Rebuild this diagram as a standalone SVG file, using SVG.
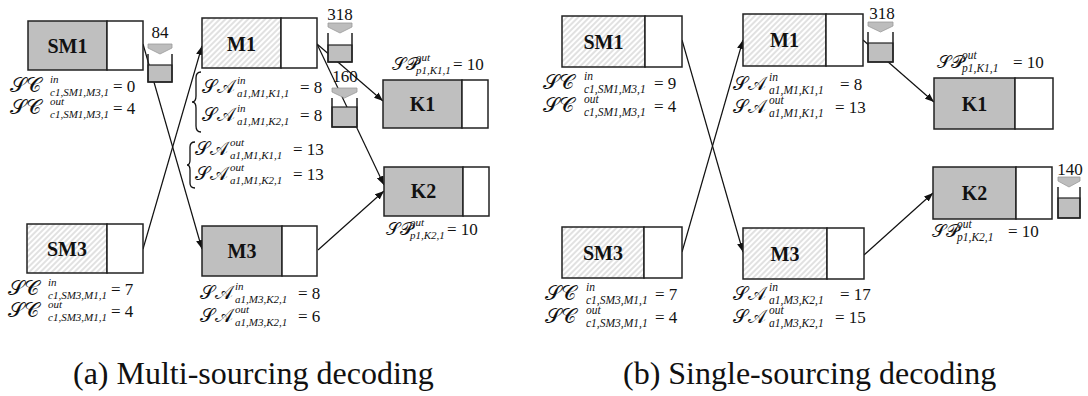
<svg xmlns="http://www.w3.org/2000/svg" width="1088" height="396" viewBox="0 0 1088 396">
  <defs>
    <pattern id="hatch" width="4" height="4" patternUnits="userSpaceOnUse" patternTransform="rotate(45)">
      <rect width="4" height="4" fill="#ffffff"/>
      <line x1="1" y1="0" x2="1" y2="4" stroke="#c4c4c4" stroke-width="1"/>
    </pattern>
    <marker id="arr" markerWidth="9" markerHeight="7" refX="9" refY="3.5" orient="auto" markerUnits="userSpaceOnUse">
      <path d="M0,0 L9,3.5 L0,7 z" fill="#111"/>
    </marker>
    <style>
      .box { stroke: #222; stroke-width: 1.5; }
      .solid { fill: #bfbfbf; }
      .hatched { fill: url(#hatch); }
      .cell { fill: #ffffff; }
      .name { font-family: "Liberation Serif", "Times New Roman", serif; font-weight: bold; font-size: 20px; text-anchor: middle; fill: #111; }
      .fm { font-family: "Liberation Serif", "Times New Roman", serif; font-size: 17px; fill: #111; }
      .cal { font-family: "DejaVu Serif", "DejaVu Sans", serif; font-size: 18.5px; }
      .cal.c { font-size: 21px; }
      .cal.p { font-size: 18px; }
      .sp, .sb { font-family: "Liberation Serif", "Times New Roman", serif; font-style: italic; font-size: 11px; }
      .wide .sp, .wide .sb { font-size: 11.5px; }
      .qty { font-family: "Liberation Serif", "Times New Roman", serif; font-size: 17px; text-anchor: middle; fill: #111; }
      .cap { font-family: "Liberation Serif", "Times New Roman", serif; font-size: 32px; fill: #111; }
      .wire { stroke: #111; stroke-width: 1.2; fill: none; marker-end: url(#arr); }
      .brace { stroke: #111; stroke-width: 1.3; fill: none; }
      .tip { fill: #bdbdbd; stroke: #9a9a9a; stroke-width: 0.8; }
      .wall { fill: none; stroke: #222; stroke-width: 1.5; }
      .level { fill: #bfbfbf; stroke: #222; stroke-width: 1.2; }
    </style>
  </defs>

  <!-- connectors -->
  <g id="connectors">
    <line class="wire" x1="143" y1="44" x2="202" y2="249"/>
    <line class="wire" x1="143" y1="249" x2="202" y2="46"/>
    <line class="wire" x1="317" y1="44" x2="383" y2="101"/>
    <line class="wire" x1="317" y1="44" x2="384" y2="185"/>
    <line class="wire" x1="318" y1="250" x2="384" y2="191"/>
    <line class="wire" x1="682" y1="40" x2="743" y2="252"/>
    <line class="wire" x1="682" y1="252" x2="743" y2="40"/>
    <line class="wire" x1="863" y1="40" x2="934" y2="102"/>
    <line class="wire" x1="864" y1="255" x2="933" y2="193"/>
  </g>

  <!-- (a) multi-sourcing -->
  <g id="a-SM1">
    <rect class="box solid" x="28" y="21" width="79" height="49"/>
    <rect class="box cell" x="107" y="21" width="36" height="49"/>
    <text class="name" x="67.5" y="53">SM1</text>
    <text class="fm" y="92"><tspan class="cal c" x="10">𝒮𝒞</tspan><tspan class="sp" x="50" y="83">in</tspan><tspan class="sb" x="50" y="96">c1,SM1,M3,1</tspan><tspan x="113" y="92">= 0</tspan></text>
    <text class="fm" y="114"><tspan class="cal c" x="10">𝒮𝒞</tspan><tspan class="sp" x="50" y="105">out</tspan><tspan class="sb" x="50" y="118">c1,SM1,M3,1</tspan><tspan x="113" y="114">= 4</tspan></text>
  </g>
  <g id="a-SM1-stock">
    <polygon class="tip" points="148,44 172,44 172,48 160,54 148,48"/>
    <rect class="level" x="148" y="65" width="24" height="17"/>
    <path class="wall" d="M148,54 V82 H172 V54"/>
    <text class="qty" x="160" y="38">84</text>
  </g>
  <g id="a-SM3">
    <rect class="box hatched" x="27" y="224" width="80" height="49"/>
    <rect class="box cell" x="107" y="224" width="36" height="49"/>
    <text class="name" x="67" y="256">SM3</text>
    <text class="fm" y="295"><tspan class="cal c" x="8">𝒮𝒞</tspan><tspan class="sp" x="48" y="286">in</tspan><tspan class="sb" x="48" y="299">c1,SM3,M1,1</tspan><tspan x="111" y="295">= 7</tspan></text>
    <text class="fm" y="317"><tspan class="cal c" x="8">𝒮𝒞</tspan><tspan class="sp" x="48" y="308">out</tspan><tspan class="sb" x="48" y="321">c1,SM3,M1,1</tspan><tspan x="111" y="317">= 4</tspan></text>
  </g>
  <g id="a-M1">
    <rect class="box hatched" x="202" y="18" width="79" height="50"/>
    <rect class="box cell" x="281" y="18" width="36" height="50"/>
    <text class="name" x="241.5" y="51">M1</text>
    <path class="brace" d="M201,72 Q196,72 196,78 L196,96 Q196,102 192,102 Q196,102 196,108 L196,126 Q196,132 201,132"/>
    <text class="fm" y="93"><tspan class="cal" x="202">𝒮𝒜</tspan><tspan class="sp" x="237" y="84">in</tspan><tspan class="sb" x="237" y="97">a1,M1,K1,1</tspan><tspan x="300" y="93">= 8</tspan></text>
    <text class="fm" y="121"><tspan class="cal" x="202">𝒮𝒜</tspan><tspan class="sp" x="237" y="112">in</tspan><tspan class="sb" x="237" y="125">a1,M1,K2,1</tspan><tspan x="300" y="121">= 8</tspan></text>
    <path class="brace" d="M195,142 Q190,142 190,147 L190,160 Q190,165 187,165 Q190,165 190,170 L190,183 Q190,188 195,188"/>
    <text class="fm" y="155"><tspan class="cal" x="195">𝒮𝒜</tspan><tspan class="sp" x="230" y="146">out</tspan><tspan class="sb" x="230" y="159">a1,M1,K1,1</tspan><tspan x="293" y="155">= 13</tspan></text>
    <text class="fm" y="180"><tspan class="cal" x="195">𝒮𝒜</tspan><tspan class="sp" x="230" y="171">out</tspan><tspan class="sb" x="230" y="184">a1,M1,K2,1</tspan><tspan x="293" y="180">= 13</tspan></text>
  </g>
  <g id="a-M1-stock">
    <polygon class="tip" points="328,23 352,23 352,27 340,33 328,27"/>
    <rect class="level" x="328" y="45" width="24" height="17"/>
    <path class="wall" d="M328,33 V62 H352 V33"/>
    <text class="qty" x="340" y="20">318</text>
    <polygon class="tip" points="332,88 357,88 357,92 344.5,98 332,92"/>
    <rect class="level" x="332" y="107" width="25" height="20"/>
    <path class="wall" d="M332,98 V127 H357 V98"/>
    <text class="qty" x="345" y="82">160</text>
  </g>
  <g id="a-M3">
    <rect class="box solid" x="202" y="226" width="80" height="50"/>
    <rect class="box cell" x="282" y="226" width="35" height="50"/>
    <text class="name" x="242" y="258">M3</text>
    <text class="fm" y="299"><tspan class="cal" x="200">𝒮𝒜</tspan><tspan class="sp" x="235" y="290">in</tspan><tspan class="sb" x="235" y="303">a1,M3,K2,1</tspan><tspan x="298" y="299">= 8</tspan></text>
    <text class="fm" y="322"><tspan class="cal" x="200">𝒮𝒜</tspan><tspan class="sp" x="235" y="313">out</tspan><tspan class="sb" x="235" y="326">a1,M3,K2,1</tspan><tspan x="298" y="322">= 6</tspan></text>
  </g>
  <g id="a-K1">
    <rect class="box solid" x="383" y="80" width="79" height="48"/>
    <rect class="box cell" x="462" y="80" width="26" height="48"/>
    <text class="name" x="422.5" y="111">K1</text>
    <text class="fm" y="70"><tspan class="cal p" x="392">𝒮𝒫</tspan><tspan class="sp" x="416" y="61">out</tspan><tspan class="sb" x="416" y="74">p1,K1,1</tspan><tspan x="453" y="70">= 10</tspan></text>
  </g>
  <g id="a-K2">
    <rect class="box solid" x="384" y="167" width="79" height="49"/>
    <rect class="box cell" x="463" y="167" width="26" height="49"/>
    <text class="name" x="423.5" y="198">K2</text>
    <text class="fm" y="235"><tspan class="cal p" x="386">𝒮𝒫</tspan><tspan class="sp" x="410" y="226">out</tspan><tspan class="sb" x="410" y="239">p1,K2,1</tspan><tspan x="447" y="235">= 10</tspan></text>
  </g>

  <!-- (b) single-sourcing -->
  <g id="b-SM1" class="wide">
    <rect class="box hatched" x="562" y="16" width="83" height="51"/>
    <rect class="box cell" x="645" y="16" width="37" height="51"/>
    <text class="name" x="603.5" y="49">SM1</text>
    <text class="fm" y="89"><tspan class="cal c" x="543">𝒮𝒞</tspan><tspan class="sp" x="584" y="80">in</tspan><tspan class="sb" x="584" y="92.5">c1,SM1,M3,1</tspan><tspan x="654" y="89">= 9</tspan></text>
    <text class="fm" y="112"><tspan class="cal c" x="543">𝒮𝒞</tspan><tspan class="sp" x="584" y="103">out</tspan><tspan class="sb" x="584" y="115.5">c1,SM1,M3,1</tspan><tspan x="654" y="112">= 4</tspan></text>
  </g>
  <g id="b-SM3" class="wide">
    <rect class="box hatched" x="562" y="227" width="82" height="51"/>
    <rect class="box cell" x="644" y="227" width="38" height="51"/>
    <text class="name" x="603" y="260">SM3</text>
    <text class="fm" y="300"><tspan class="cal c" x="545">𝒮𝒞</tspan><tspan class="sp" x="586" y="291">in</tspan><tspan class="sb" x="586" y="303.5">c1,SM3,M1,1</tspan><tspan x="655" y="300">= 7</tspan></text>
    <text class="fm" y="323"><tspan class="cal c" x="545">𝒮𝒞</tspan><tspan class="sp" x="586" y="314">out</tspan><tspan class="sb" x="586" y="326.5">c1,SM3,M1,1</tspan><tspan x="655" y="323">= 4</tspan></text>
  </g>
  <g id="b-M1" class="wide">
    <rect class="box hatched" x="743" y="14" width="83" height="52"/>
    <rect class="box cell" x="826" y="14" width="37" height="52"/>
    <text class="name" x="784.5" y="47">M1</text>
    <text class="fm" y="90"><tspan class="cal" x="733">𝒮𝒜</tspan><tspan class="sp" x="769" y="81">in</tspan><tspan class="sb" x="769" y="93.5">a1,M1,K1,1</tspan><tspan x="840" y="90">= 8</tspan></text>
    <text class="fm" y="113"><tspan class="cal" x="733">𝒮𝒜</tspan><tspan class="sp" x="769" y="104">out</tspan><tspan class="sb" x="769" y="116.5">a1,M1,K1,1</tspan><tspan x="835" y="113">= 13</tspan></text>
  </g>
  <g id="b-M1-stock">
    <polygon class="tip" points="868,22 893,22 893,26 880.5,32 868,26"/>
    <rect class="level" x="868" y="43" width="25" height="19"/>
    <path class="wall" d="M868,32 V62 H893 V32"/>
    <text class="qty" x="882" y="19">318</text>
  </g>
  <g id="b-M3" class="wide">
    <rect class="box hatched" x="743" y="228" width="84" height="51"/>
    <rect class="box cell" x="827" y="228" width="37" height="51"/>
    <text class="name" x="785" y="261">M3</text>
    <text class="fm" y="300"><tspan class="cal" x="733">𝒮𝒜</tspan><tspan class="sp" x="769" y="291">in</tspan><tspan class="sb" x="769" y="303.5">a1,M3,K2,1</tspan><tspan x="840" y="300">= 17</tspan></text>
    <text class="fm" y="323"><tspan class="cal" x="733">𝒮𝒜</tspan><tspan class="sp" x="769" y="314">out</tspan><tspan class="sb" x="769" y="326.5">a1,M3,K2,1</tspan><tspan x="835" y="323">= 15</tspan></text>
  </g>
  <g id="b-K1" class="wide">
    <rect class="box solid" x="934" y="78" width="81" height="51"/>
    <rect class="box cell" x="1015" y="78" width="38" height="51"/>
    <text class="name" x="974.5" y="111">K1</text>
    <text class="fm" y="68"><tspan class="cal p" x="937">𝒮𝒫</tspan><tspan class="sp" x="962" y="59">out</tspan><tspan class="sb" x="962" y="71.5">p1,K1,1</tspan><tspan x="1013" y="68">= 10</tspan></text>
  </g>
  <g id="b-K2" class="wide">
    <rect class="box solid" x="933" y="167" width="83" height="52"/>
    <rect class="box cell" x="1016" y="167" width="36" height="52"/>
    <text class="name" x="974.5" y="200">K2</text>
    <text class="fm" y="237"><tspan class="cal p" x="932">𝒮𝒫</tspan><tspan class="sp" x="957" y="228">out</tspan><tspan class="sb" x="957" y="240.5">p1,K2,1</tspan><tspan x="1008" y="237">= 10</tspan></text>
  </g>
  <g id="b-K2-stock">
    <polygon class="tip" points="1058,177 1080,177 1080,181 1069,187 1058,181"/>
    <rect class="level" x="1058" y="198" width="22" height="20"/>
    <path class="wall" d="M1058,187 V218 H1080 V187"/>
    <text class="qty" x="1070" y="175">140</text>
  </g>

  <!-- captions -->
  <text class="cap" x="73" y="384">(a) Multi-sourcing decoding</text>
  <text class="cap" x="623" y="384">(b) Single-sourcing decoding</text>
</svg>
